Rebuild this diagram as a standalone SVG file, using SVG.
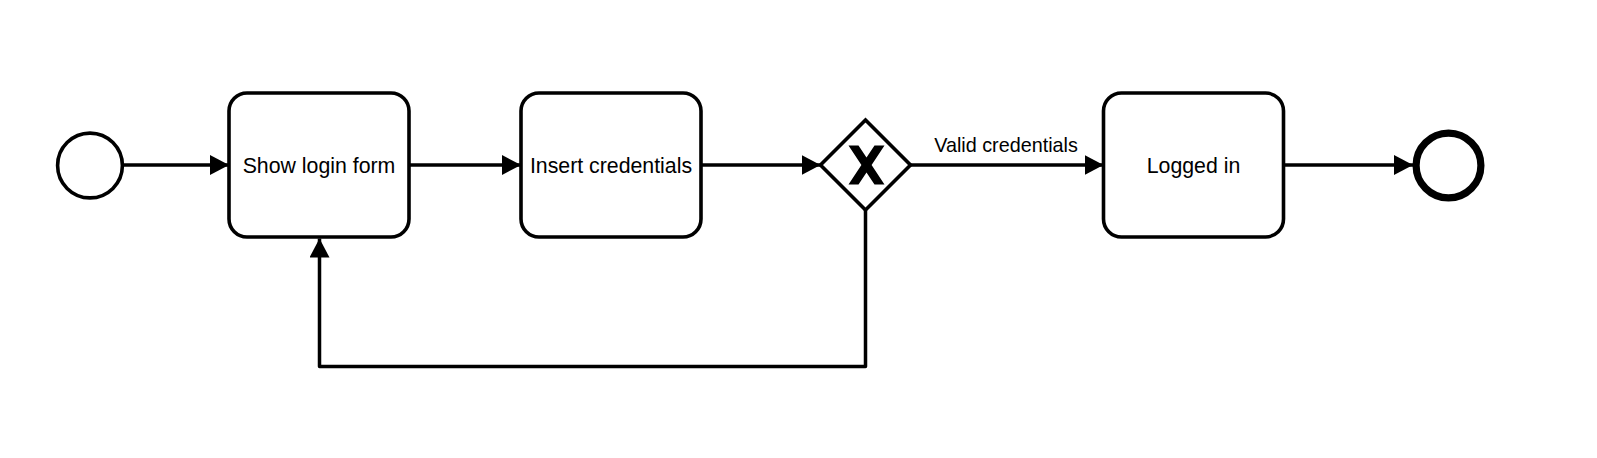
<svg xmlns="http://www.w3.org/2000/svg" width="1597" height="458" viewBox="0 0 1597 458">
  <style>
    .task { fill: #ffffff; stroke: #000000; stroke-width: 3.6; }
    .event { fill: #ffffff; stroke: #000000; stroke-width: 3.6; }
    .end { fill: #ffffff; stroke: #000000; stroke-width: 7.2; }
    .flow { fill: none; stroke: #000000; stroke-width: 3.5; stroke-linejoin: round; marker-end: url(#arrow); }
    .label { font-family: "Liberation Sans", Arial, sans-serif; font-size: 21.3px; fill: #000000; text-anchor: middle; }
    .flabel { font-family: "Liberation Sans", Arial, sans-serif; font-size: 19.8px; fill: #000000; text-anchor: middle; }
  </style>
  <defs>
    <marker id="arrow" markerUnits="userSpaceOnUse" markerWidth="19" markerHeight="20" refX="19" refY="10" orient="auto">
      <path d="M0,0 L19,10 L0,20 Z" fill="#000000"/>
    </marker>
  </defs>
  <rect width="1597" height="458" fill="#ffffff"/>
  <g id="connectors">
    <path class="flow" d="M122.4,165 L229,165"/>
    <path class="flow" d="M409,165 L521,165"/>
    <path class="flow" d="M701,165 L820.5,165"/>
    <path class="flow" d="M910.5,165 L1103.5,165"/>
    <path class="flow" d="M1283.5,165 L1413,165"/>
    <path class="flow" d="M865.5,210 L865.5,366.5 L319.5,366.5 L319.5,238.5"/>
    <text class="flabel" x="1006" y="152">Valid credentials</text>
  </g>
  <g id="start">
    <circle class="event" cx="90" cy="165.5" r="32.4"/>
  </g>
  <g id="task-show-login">
    <rect class="task" x="229" y="93" width="180" height="144" rx="18" ry="18"/>
    <text class="label" x="319" y="172.5">Show login form</text>
  </g>
  <g id="task-insert-credentials">
    <rect class="task" x="521" y="93" width="180" height="144" rx="18" ry="18"/>
    <text class="label" x="611" y="172.5">Insert credentials</text>
  </g>
  <g id="gateway">
    <polygon class="task" points="865.5,120 910.5,165 865.5,210 820.5,165"/>
    <polygon fill="#000000" points="848.5,145.5 858.5,145.5 866.5,157.6 874.5,145.5 884.5,145.5 871.6,165 884.5,184.5 874.5,184.5 866.5,172.4 858.5,184.5 848.5,184.5 861.4,165"/>
  </g>
  <g id="task-logged-in">
    <rect class="task" x="1103.5" y="93" width="180" height="144" rx="18" ry="18"/>
    <text class="label" x="1193.5" y="172.5">Logged in</text>
  </g>
  <g id="end">
    <circle class="end" cx="1448.5" cy="165.5" r="32.4"/>
  </g>
</svg>
